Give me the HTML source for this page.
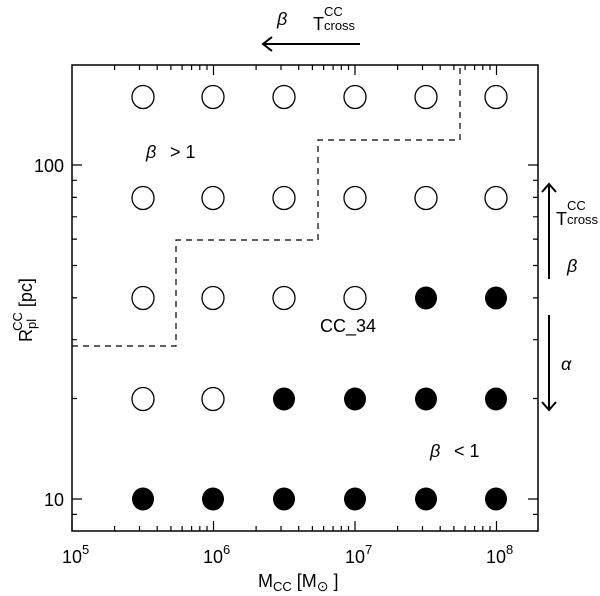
<!DOCTYPE html>
<html><head><style>body{margin:0;background:#fff}svg{display:block}text{font-family:"Liberation Sans",sans-serif;fill:#000}</style></head>
<body>
<svg width="600" height="596" viewBox="0 0 600 596" xmlns="http://www.w3.org/2000/svg">
<rect x="72" y="65" width="466" height="466" fill="none" stroke="#000" stroke-width="1.5"/>
<g stroke="#000" stroke-width="1.2" fill="none">
<path d="M72 531V521M114.6 531V526M139.5 531V526M157.2 531V526M170.9 531V526M182.1 531V526M191.6 531V526M199.8 531V526M207 531V526M213.5 531V521M256.1 531V526M281 531V526M298.7 531V526M312.4 531V526M323.6 531V526M333.1 531V526M341.3 531V526M348.5 531V526M355 531V521M397.6 531V526M422.5 531V526M440.2 531V526M453.9 531V526M465.1 531V526M474.6 531V526M482.8 531V526M490 531V526M496.5 531V521"/>
<path d="M114.6 65V70M139.5 65V70M157.2 65V70M170.9 65V70M182.1 65V70M191.6 65V70M199.8 65V70M207 65V70M213.5 65V75M256.1 65V70M281 65V70M298.7 65V70M312.4 65V70M323.6 65V70M333.1 65V70M341.3 65V70M348.5 65V70M355 65V75M397.6 65V70M422.5 65V70M440.2 65V70M453.9 65V70M465.1 65V70M474.6 65V70M482.8 65V70M490 65V70M496.5 65V75"/>
<path d="M72 514.4H77M72 499H82M72 398.5H77M72 339.7H77M72 297.9H77M72 265.5H77M72 239.1H77M72 216.8H77M72 197.4H77M72 180.3H77M72 165H82"/>
<path d="M538 514.4H533M538 499H528M538 398.5H533M538 339.7H533M538 297.9H533M538 265.5H533M538 239.1H533M538 216.8H533M538 197.4H533M538 180.3H533M538 165H528"/>
</g>
<path d="M72 346 H176 V240 H318 V140 H460 V65" fill="none" stroke="#000" stroke-width="1.2" stroke-dasharray="6,5"/>
<g stroke="#000" stroke-width="1.3" fill="#fff">
<ellipse cx="143" cy="97" rx="11" ry="11.5"/><ellipse cx="213" cy="97" rx="11" ry="11.5"/><ellipse cx="284" cy="97" rx="11" ry="11.5"/><ellipse cx="355" cy="97" rx="11" ry="11.5"/><ellipse cx="426" cy="97" rx="11" ry="11.5"/><ellipse cx="496" cy="97" rx="11" ry="11.5"/>
<ellipse cx="143" cy="198" rx="11" ry="11.5"/><ellipse cx="213" cy="198" rx="11" ry="11.5"/><ellipse cx="284" cy="198" rx="11" ry="11.5"/><ellipse cx="355" cy="198" rx="11" ry="11.5"/><ellipse cx="426" cy="198" rx="11" ry="11.5"/><ellipse cx="496" cy="198" rx="11" ry="11.5"/>
<ellipse cx="143" cy="298" rx="11" ry="11.5"/><ellipse cx="213" cy="298" rx="11" ry="11.5"/><ellipse cx="284" cy="298" rx="11" ry="11.5"/><ellipse cx="355" cy="298" rx="11" ry="11.5"/>
<ellipse cx="143" cy="399" rx="11" ry="11.5"/><ellipse cx="213" cy="399" rx="11" ry="11.5"/>
</g>
<g fill="#000">
<ellipse cx="426" cy="298" rx="11" ry="11.5"/><ellipse cx="496" cy="298" rx="11" ry="11.5"/>
<ellipse cx="284" cy="399" rx="11" ry="11.5"/><ellipse cx="355" cy="399" rx="11" ry="11.5"/><ellipse cx="426" cy="399" rx="11" ry="11.5"/><ellipse cx="496" cy="399" rx="11" ry="11.5"/>
<ellipse cx="143" cy="499" rx="11" ry="11.5"/><ellipse cx="213" cy="499" rx="11" ry="11.5"/><ellipse cx="284" cy="499" rx="11" ry="11.5"/><ellipse cx="355" cy="499" rx="11" ry="11.5"/><ellipse cx="426" cy="499" rx="11" ry="11.5"/><ellipse cx="496" cy="499" rx="11" ry="11.5"/>
</g>
<g font-size="18">
<text x="64" y="506" text-anchor="end">10</text>
<text x="64" y="172" text-anchor="end">100</text>
<text x="62" y="563">10<tspan dy="-9" font-size="13">5</tspan></text>
<text x="203" y="563">10<tspan dy="-9" font-size="13">6</tspan></text>
<text x="345" y="563">10<tspan dy="-9" font-size="13">7</tspan></text>
<text x="486" y="563">10<tspan dy="-9" font-size="13">8</tspan></text>
<text x="258" y="587">M<tspan font-size="13" dy="4">CC</tspan><tspan dy="-4"> [M</tspan><tspan font-size="14" dy="4">⊙</tspan><tspan dy="-4"> ]</tspan></text>
<text transform="translate(32,342) rotate(-90)">R<tspan font-size="13" dy="4">pl</tspan><tspan font-size="13" dx="-12" dy="-14">CC</tspan><tspan dy="10"> [pc]</tspan></text>
<text x="146" y="158" font-style="italic">β</text><text x="170" y="158">&gt;   1</text>
<text x="430" y="457" font-style="italic">β</text><text x="454" y="457">&lt;   1</text>
<text x="320" y="332">CC_34</text>
<text x="277" y="25" font-style="italic">β</text>
<text x="313" y="30">T</text><text x="324" y="16" font-size="13">CC</text><text x="324" y="30" font-size="13">cross</text>
<text x="556" y="225">T</text><text x="567" y="210" font-size="13">CC</text><text x="567" y="224" font-size="13">cross</text>
<text x="567" y="272" font-style="italic">β</text>
<text x="561" y="370" font-style="italic">α</text>
</g>
<g stroke="#000" stroke-width="2" fill="none">
<path d="M360 44 H263 M272 37 L263 44 L272 51"/>
<path d="M549 279 V184 M542 192 L549 184 L556 192"/>
<path d="M549 315 V410 M542 402 L549 410 L556 402"/>
</g>
</svg>
</body></html>
